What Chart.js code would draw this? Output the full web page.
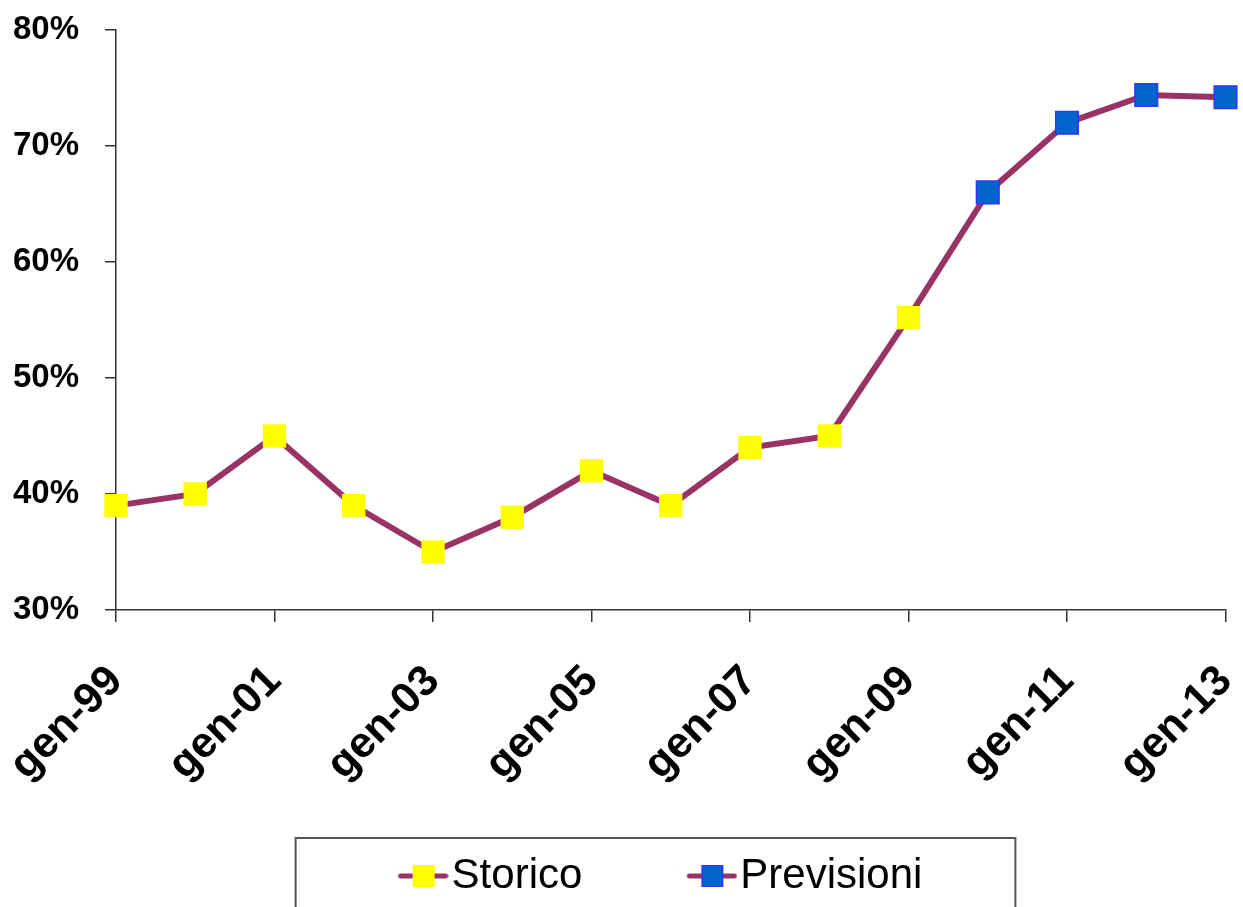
<!DOCTYPE html>
<html>
<head>
<meta charset="utf-8">
<script src="https://cdn.jsdelivr.net/npm/chart.js@4"></script>
<style>
html,body{margin:0;padding:0;background:#ffffff;}
canvas{display:block;}
</style>
</head>
<body>
<canvas id="c" width="1243" height="907"></canvas>
<script>
// ---- data ----
const xTickYears = [1999, 2001, 2003, 2005, 2007, 2009, 2011, 2013];
const xTickLabels = ['gen-99', 'gen-01', 'gen-03', 'gen-05', 'gen-07', 'gen-09', 'gen-11', 'gen-13'];
const yTickValues = [30, 40, 50, 60, 70, 80];
const storicoYears = [1999, 2000, 2001, 2002, 2003, 2004, 2005, 2006, 2007, 2008, 2009];
const storicoValues = [39, 40, 45, 39, 35, 38, 42, 39, 44, 45, 55.2];
// forecast line starts from the last historical point (connector, no marker)
const previsioniYears = [2009, 2010, 2011, 2012, 2013];
const previsioniValues = [55.2, 66, 72, 74.4, 74.2];
const seriesNames = ['Storico', 'Previsioni'];

// ---- styles ----
const LINE_COLOR = '#993366';
const FONT = '"Liberation Sans", Arial, sans-serif';
const PW = 127; // legend point-style slot width

function makeIcon(fill, stroke) {
  const c = document.createElement('canvas');
  c.width = PW + 36; c.height = 26;
  const g = c.getContext('2d');
  const right = c.width;
  g.strokeStyle = LINE_COLOR; g.lineWidth = 5; g.lineCap = 'round';
  g.beginPath(); g.moveTo(right - 48, 13); g.lineTo(right - 3, 13); g.stroke();
  g.fillStyle = fill;
  g.fillRect(right - 36, 2, 22, 22);
  if (stroke) { g.strokeStyle = stroke; g.lineWidth = 1.5; g.strokeRect(right - 36 + 0.75, 2.75, 20.5, 20.5); }
  return c;
}
const iconStorico = makeIcon('#FFFF00', null);
const iconPrevisioni = makeIcon('#0066CC', '#3333FF');

const legendFrame = {
  id: 'legendFrame',
  afterDraw(chart) {
    const lg = chart.legend;
    if (!lg || !lg.legendHitBoxes || lg.legendHitBoxes.length < 2) return;
    const h0 = lg.legendHitBoxes[0], h1 = lg.legendHitBoxes[lg.legendHitBoxes.length - 1];
    const ctx = chart.ctx;
    ctx.save();
    ctx.strokeStyle = '#555555';
    ctx.lineWidth = 2;
    const l = h0.left - 8, r = h1.left + h1.width + 93, t = lg.top - 7;
    ctx.strokeRect(l, t, r - l, chart.height - t + 20);
    ctx.restore();
  }
};

new Chart(document.getElementById('c'), {
  type: 'line',
  data: {
    datasets: [
      {
        label: seriesNames[0],
        data: storicoYears.map((x, i) => ({x, y: storicoValues[i]})),
        borderColor: LINE_COLOR,
        borderWidth: 6,
        pointStyle: 'rect',
        pointRadius: 16.5,
        pointBackgroundColor: '#FFFF00',
        pointBorderColor: '#FFFF00',
        pointBorderWidth: 0,
        tension: 0,
        clip: false,
        order: 1
      },
      {
        label: seriesNames[1],
        data: previsioniYears.map((x, i) => ({x, y: previsioniValues[i]})),
        borderColor: LINE_COLOR,
        borderWidth: 6,
        pointStyle: 'rect',
        pointRadius: (ctx) => ctx.dataIndex === 0 ? 0 : 16,
        pointBackgroundColor: '#0066CC',
        pointBorderColor: '#3333FF',
        pointBorderWidth: 1.5,
        tension: 0,
        clip: false,
        order: 2
      }
    ]
  },
  options: {
    responsive: false,
    animation: false,
    devicePixelRatio: 1,
    layout: { padding: { left: 0, right: 17, top: 30, bottom: 0 } },
    plugins: {
      title: { display: false },
      tooltip: { enabled: false },
      legend: {
        position: 'bottom',
        labels: {
          usePointStyle: true,
          pointStyleWidth: PW,
          padding: 10,
          color: '#000000',
          font: { family: FONT, size: 42 },
          generateLabels: (chart) => chart.data.datasets.map((ds, i) => ({
            text: ds.label,
            pointStyle: i === 0 ? iconStorico : iconPrevisioni,
            datasetIndex: i,
            fillStyle: 'transparent',
            strokeStyle: 'transparent',
            lineWidth: 0,
            fontColor: '#000000'
          }))
        }
      }
    },
    scales: {
      x: {
        type: 'linear',
        min: xTickYears[0],
        max: xTickYears[xTickYears.length - 1],
        afterBuildTicks: (s) => { s.ticks = xTickYears.map(v => ({value: v})); },
        afterFit: (s) => { s.height = 235; s.paddingLeft = 0; s.paddingRight = 0; },
        border: { display: true, color: '#333333', width: 1.5 },
        grid: { display: true, drawOnChartArea: false, drawTicks: true, tickLength: 12, color: '#333333', lineWidth: 1.5 },
        ticks: {
          autoSkip: false,
          minRotation: 45,
          maxRotation: 45,
          padding: 34,
          color: '#000000',
          font: { family: FONT, size: 43, weight: 'bold' },
          callback: (v) => { const i = xTickYears.indexOf(v); return i >= 0 ? xTickLabels[i] : ''; }
        }
      },
      y: {
        min: yTickValues[0],
        max: yTickValues[yTickValues.length - 1],
        afterBuildTicks: (s) => { s.ticks = yTickValues.map(v => ({value: v})); },
        afterFit: (s) => { s.width = 116; s.paddingTop = 0; s.paddingBottom = 0; },
        border: { display: true, color: '#333333', width: 1.5 },
        grid: { display: true, drawOnChartArea: false, drawTicks: true, tickLength: 11, color: '#333333', lineWidth: 1.5 },
        ticks: {
          padding: 26,
          color: '#000000',
          font: { family: FONT, size: 33, weight: 'bold' },
          callback: (v) => v + '%'
        }
      }
    }
  },
  plugins: [legendFrame]
});
</script>
</body>
</html>
